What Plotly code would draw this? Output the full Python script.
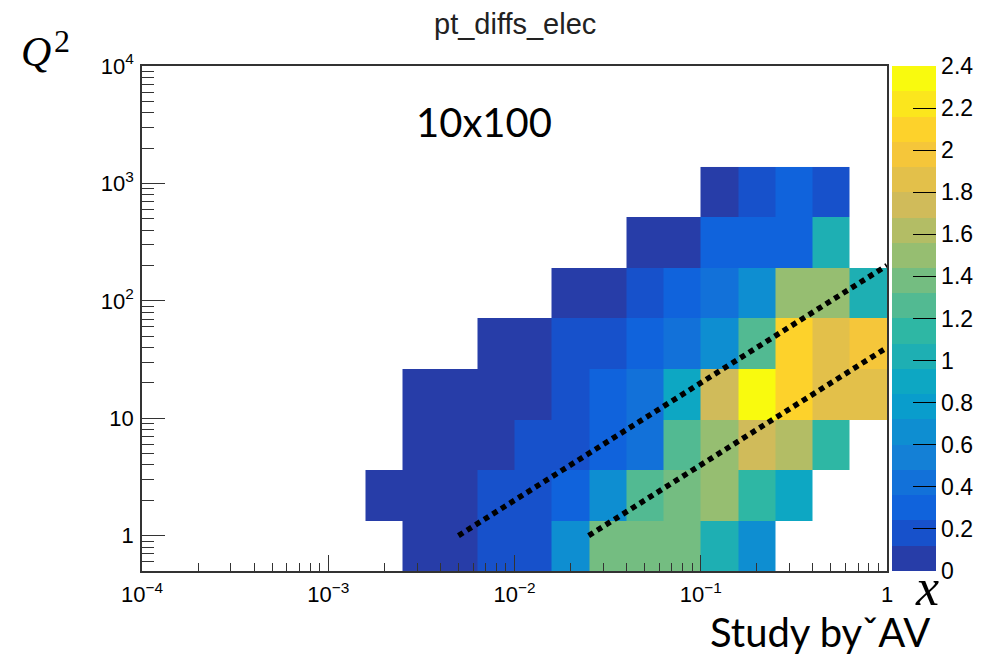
import plotly.graph_objects as go

# ---- data -------------------------------------------------------------
# bin edges (log10 of x and of Q^2)
X_EDGE_EXP = [-2.8, -2.6, -2.4, -2.2, -2.0, -1.8, -1.6, -1.4, -1.2, -1.0,
              -0.8, -0.6, -0.4, -0.2, 0.0]
Q2_EDGE_EXP = [-0.301, 0.129, 0.559, 0.989, 1.419, 1.850, 2.280, 2.710, 3.140]

# cell values (rows: low Q^2 -> high Q^2, columns: low x -> high x)
Z = [
    [None, 0.06, 0.06, 0.18, 0.18, 0.66, 1.38, 1.38, 1.38, 1.02, 0.66, None, None, None],
    [0.06, 0.06, 0.06, 0.18, 0.18, 0.30, 0.66, 1.26, 1.38, 1.50, 1.14, 0.90, None, None],
    [None, 0.06, 0.06, 0.06, 0.18, 0.18, 0.30, 0.42, 1.26, 1.50, 1.74, 1.62, 1.14, None],
    [None, 0.06, 0.06, 0.06, 0.06, 0.18, 0.30, 0.42, 0.90, 1.74, 2.34, 2.10, 1.86, 1.86],
    [None, None, None, 0.06, 0.06, 0.18, 0.18, 0.30, 0.42, 0.66, 1.26, 2.10, 1.86, 1.98],
    [None, None, None, None, None, 0.06, 0.06, 0.18, 0.30, 0.42, 0.66, 1.50, 1.50, 1.02],
    [None, None, None, None, None, None, None, 0.06, 0.06, 0.30, 0.30, 0.30, 1.02, None],
    [None, None, None, None, None, None, None, None, None, 0.06, 0.18, 0.30, 0.18, None],
]

# dotted guide lines (end points)
LINE1_X = [0.005, 1.0]
LINE1_Q2 = [1.0, 200.0]
LINE2_X = [0.025, 1.0]
LINE2_Q2 = [1.0, 40.0]

# axis ticks
X_TICKS = [1e-4, 1e-3, 1e-2, 1e-1, 1]
X_TICKTEXT = ["10<sup>\u22124</sup>", "10<sup>\u22123</sup>", "10<sup>\u22122</sup>",
              "10<sup>\u22121</sup>", "1"]
Y_TICKS = [1, 10, 100, 1000, 10000]
Y_TICKTEXT = ["1", "10", "10<sup>2</sup>", "10<sup>3</sup>", "10<sup>4</sup>"]
Z_MIN, Z_MAX = 0.0, 2.4

# ROOT "bird" palette, 20 contour bands
BANDS = ["#273DA8", "#1751CB", "#1063DC", "#1271D9", "#1480D6", "#0E8ED1",
         "#099DCC", "#0DA7C3", "#1EAFB3", "#2EB7A4", "#52BA92", "#74BD81",
         "#96BE71", "#B3BD65", "#D0BB5A", "#E3C04A", "#F5C63A", "#FDD22B",
         "#FBE61D", "#F9FA0E"]

# ---- build --------------------------------------------------------------
x_edges = [10 ** e for e in X_EDGE_EXP]
y_edges = [10 ** e for e in Q2_EDGE_EXP]

n = len(BANDS)
colorscale = []
for i, c in enumerate(BANDS):
    colorscale.append([i / n, c])
    colorscale.append([(i + 1) / n, c])

x_minor = [d * 10 ** p for p in range(-4, 0) for d in range(2, 10)]
y_minor = [d * 10 ** p for p in range(-1, 4) for d in range(2, 10) if d * 10 ** p > 0.5]

SANS = "Liberation Sans, Arial, Helvetica, sans-serif"
TICKFONT = dict(family=SANS, size=22, color="black")

# plot area in page pixels: x 142..887, y 66..571 (page body has an 8px margin)
PL, PT, PW, PH = 142, 66, 745, 505
BODY = 8


def px(x):
    return (x - PL) / PW


def py(y):
    return 1 - (y - PT) / PH


fig = go.Figure()
fig.add_trace(go.Heatmap(
    x=x_edges, y=y_edges, z=Z,
    zmin=Z_MIN, zmax=Z_MAX, colorscale=colorscale,
    hoverongaps=False,
    colorbar=dict(
        x=px(892), xanchor="left", xpad=0,
        y=0.5, yanchor="middle", ypad=0, len=1.0, lenmode="fraction",
        thickness=44, thicknessmode="pixels", outlinewidth=0,
        tick0=0, dtick=0.2, ticks="inside", ticklen=23, tickwidth=1.3,
        tickcolor="black", tickfont=dict(family=SANS, size=23, color="black"),
    ),
))

for lx, ly in ((LINE1_X, LINE1_Q2), (LINE2_X, LINE2_Q2)):
    fig.add_trace(go.Scatter(
        x=lx, y=ly, mode="lines",
        line=dict(color="black", width=5.5, dash="5.5px,4.6px"),
        showlegend=False, hoverinfo="skip",
    ))

axis_common = dict(
    showgrid=False, zeroline=False, showline=True, linecolor="#333",
    linewidth=1.5, mirror=True, ticks="inside", tickcolor="#333",
    tickwidth=1.3, tickfont=TICKFONT, layer="above traces",
)

fig.update_xaxes(
    type="log", range=[-4, 0], tickmode="array", tickvals=X_TICKS,
    ticktext=X_TICKTEXT, ticklen=16, ticklabelstandoff=3,
    minor=dict(tickmode="array", tickvals=x_minor, ticks="inside",
               ticklen=8, tickcolor="#333", tickwidth=1.3, showgrid=False),
    **axis_common,
)
fig.update_yaxes(
    type="log", range=[-0.30103, 4], tickmode="array", tickvals=Y_TICKS,
    ticktext=Y_TICKTEXT, ticklen=23, ticklabelstandoff=2,
    minor=dict(tickmode="array", tickvals=y_minor, ticks="inside",
               ticklen=12, tickcolor="#333", tickwidth=1.3, showgrid=False),
    **axis_common,
)

annotations = [
    dict(text="pt_diffs_elec", x=px(515), y=py(24),
         font=dict(family=SANS, size=29, color="#222")),
    dict(text="10x100", x=px(483.5), y=py(122),
         font=dict(family="Lato, sans-serif", size=40, color="black")),
    dict(text="Study by\u02c7AV", x=px(820), y=py(632),
         font=dict(family="Lato, sans-serif", size=40, color="black")),
    dict(text="<i>Q</i>", x=px(36), y=py(52),
         font=dict(family="Liberation Serif, serif", size=42, color="black")),
    dict(text="2", x=px(62), y=py(41),
         font=dict(family="Liberation Serif, serif", size=32, color="black")),
    dict(text="<i>x</i>", x=px(927), y=py(587),
         font=dict(family="Liberation Serif, serif", size=52, color="black")),
]
for a in annotations:
    a.setdefault("xanchor", "center")
    a.setdefault("yanchor", "middle")
    a.update(xref="paper", yref="paper", showarrow=False)

FIG_W, FIG_H = 999 - BODY, 659 - BODY
ml, mt = PL - BODY, PT - BODY
fig.update_layout(
    width=FIG_W, height=FIG_H,
    margin=dict(l=ml, t=mt, r=FIG_W - ml - PW, b=FIG_H - mt - PH, autoexpand=False),
    paper_bgcolor="white", plot_bgcolor="white",
    showlegend=False, annotations=annotations,
)

fig.write_html("out.html")
